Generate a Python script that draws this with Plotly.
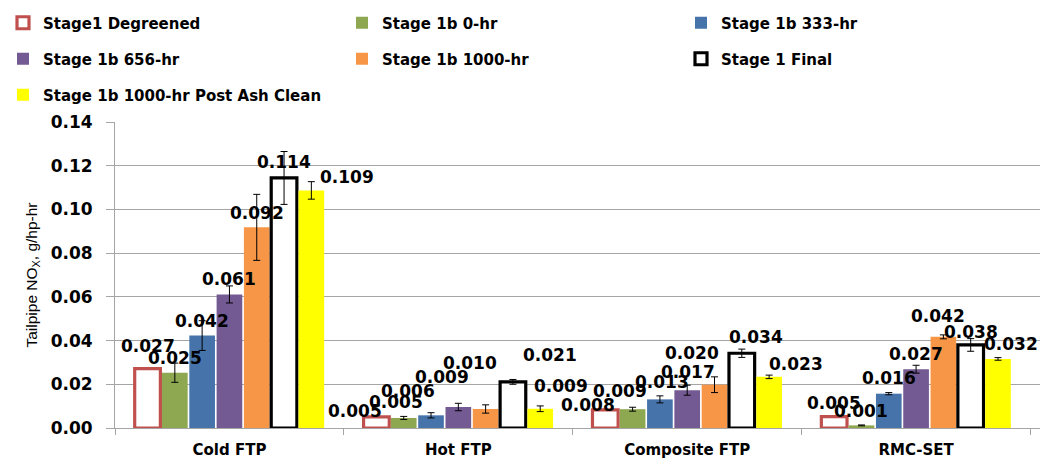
import plotly.graph_objects as go

# ---------------- data ----------------
categories = ["Cold FTP", "Hot FTP", "Composite FTP", "RMC-SET"]
series_names = [
    "Stage1 Degreened",
    "Stage 1b 0-hr",
    "Stage 1b 333-hr",
    "Stage 1b 656-hr",
    "Stage 1b 1000-hr",
    "Stage 1 Final",
    "Stage 1b 1000-hr Post Ash Clean",
]

degreened = [0.0272, 0.0051, 0.0083, 0.0052]
hr0 = [0.0253, 0.0046, 0.0086, 0.0012]
hr333 = [0.0423, 0.0058, 0.0131, 0.0157]
hr656 = [0.0611, 0.0096, 0.0173, 0.0269]
hr1000 = [0.0918, 0.0087, 0.0198, 0.0417]
final = [0.1144, 0.0211, 0.0342, 0.0380]
post_ash = [0.1087, 0.0088, 0.0234, 0.0316]

err_degreened = [0.0, 0.0, 0.0, 0.0]
err_hr0 = [0.0044, 0.0007, 0.0009, 0.0002]
err_hr333 = [0.0068, 0.0012, 0.0016, 0.0005]
err_hr656 = [0.0039, 0.0017, 0.0023, 0.0018]
err_hr1000 = [0.0151, 0.0019, 0.0036, 0.0009]
err_final = [0.0121, 0.0011, 0.0019, 0.0029]
err_post_ash = [0.0040, 0.0013, 0.0008, 0.0006]

y_ticks = [0.00, 0.02, 0.04, 0.06, 0.08, 0.10, 0.12, 0.14]

values = [degreened, hr0, hr333, hr656, hr1000, final, post_ash]
errors = [err_degreened, err_hr0, err_hr333, err_hr656, err_hr1000, err_final, err_post_ash]

# ---------------- style ----------------
fills = ["white", "#8DA850", "#4674AA", "#735A92", "#F79646", "white", "#FFFF00"]
lines = ["#C0504D", None, None, None, None, "#000000", None]
show_err = [False, True, True, True, True, True, True]

# manual data-label nudges (px): (dx, dy above bar top) per series, per category
label_nudge = [
    [(0, 23), (-21, 6), (-17, 5), (0, 14)],
    [(0, 15), (-8, 16), (-13, 18), (0, 14)],
    [(0, 15), (-23, 24), (2, 17), (0, 16)],
    [(0, 15), (12, 44), (1, 18), (0, 15)],
    [(0, 14), (-44, 32), (-23, 32), (-5, 21)],
    [(0, 16), (37, 27), (14, 16), (0, 13)],
    [(36, 13), (21, 23), (27, 13), (13, 15)],
]

BARGAP = 0.165
BARGROUPGAP = 0.06
BOLD = "DejaVu Sans"
GRID = "#A5A5A5"

# the page body has an 8px margin, so the figure is sized/margined to compensate
PAGE_OFF = 8
W, H = 1051 - PAGE_OFF, 458 - PAGE_OFF
ML, MR, MT, MB = 115 - PAGE_OFF, 11, 122 - PAGE_OFF, 30
PLOT_H = 458 - 122 - 30

fig = go.Figure()
legend_ids = ["legend", "legend", "legend", "legend2", "legend2", "legend2", "legend3"]
for i, name in enumerate(series_names):
    fig.add_trace(go.Bar(
        name=name,
        x=categories,
        y=values[i],
        marker=dict(
            color=fills[i],
            line=dict(color=lines[i] if lines[i] else "rgba(0,0,0,0)",
                      width=3.2 if lines[i] else 0),
        ),
        error_y=dict(type="data", array=errors[i], visible=show_err[i],
                     color="black", thickness=1, width=3.5),
        legend=legend_ids[i],
    ))

n = len(series_names)
slot = (1 - BARGAP) / n
annotations = []
for i in range(n):
    for ci, cat in enumerate(categories):
        dx, dy = label_nudge[i][ci]
        annotations.append(dict(
            x=ci + (i - (n - 1) / 2) * slot,
            y=values[i][ci],
            xref="x", yref="y",
            text=f"{values[i][ci]:.3f}",
            showarrow=False,
            xanchor="center", yanchor="middle",
            xshift=dx, yshift=dy,
            font=dict(family=BOLD, size=17, color="black", weight="bold"),
        ))

legend_common = dict(
    orientation="h",
    entrywidth=294,
    entrywidthmode="pixels",
    xanchor="left",
    yanchor="middle",
    bgcolor="rgba(0,0,0,0)",
    font=dict(family=BOLD, size=15, color="black", weight="bold"),
    traceorder="normal",
)
LX = (3 - 115) / 925.0

fig.update_layout(
    width=W,
    height=H,
    margin=dict(l=ML, r=MR, t=MT, b=MB, autoexpand=False),
    paper_bgcolor="white",
    plot_bgcolor="white",
    barmode="group",
    bargap=BARGAP,
    bargroupgap=BARGROUPGAP,
    showlegend=True,
    legend=dict(legend_common, x=LX, y=(PLOT_H + 122 - 23) / PLOT_H),
    legend2=dict(legend_common, x=LX, y=(PLOT_H + 122 - 59) / PLOT_H),
    legend3=dict(legend_common, x=LX, y=(PLOT_H + 122 - 95) / PLOT_H),
    annotations=annotations,
    xaxis=dict(
        type="category",
        showline=True, linecolor=GRID, linewidth=1,
        ticks="outside", tickson="boundaries", ticklen=6, tickcolor=GRID,
        showgrid=False,
        tickfont=dict(family=BOLD, size=15, color="black", weight="bold"),
        ticklabelstandoff=8,
    ),
    yaxis=dict(
        range=[0, 0.14],
        tickvals=y_ticks,
        tickformat=".2f",
        showline=True, linecolor=GRID, linewidth=1,
        ticks="outside", ticklen=8, tickcolor=GRID,
        showgrid=True, gridcolor=GRID, gridwidth=1,
        zeroline=False,
        tickfont=dict(family=BOLD, size=17, color="black", weight="bold"),
        ticklabelstandoff=10,
        title=dict(text="Tailpipe NO<sub>X</sub>, g/hp-hr",
                   font=dict(family="Liberation Sans", size=15.5, color="black"),
                   standoff=9),
    ),
)

fig.write_html("out.html")
